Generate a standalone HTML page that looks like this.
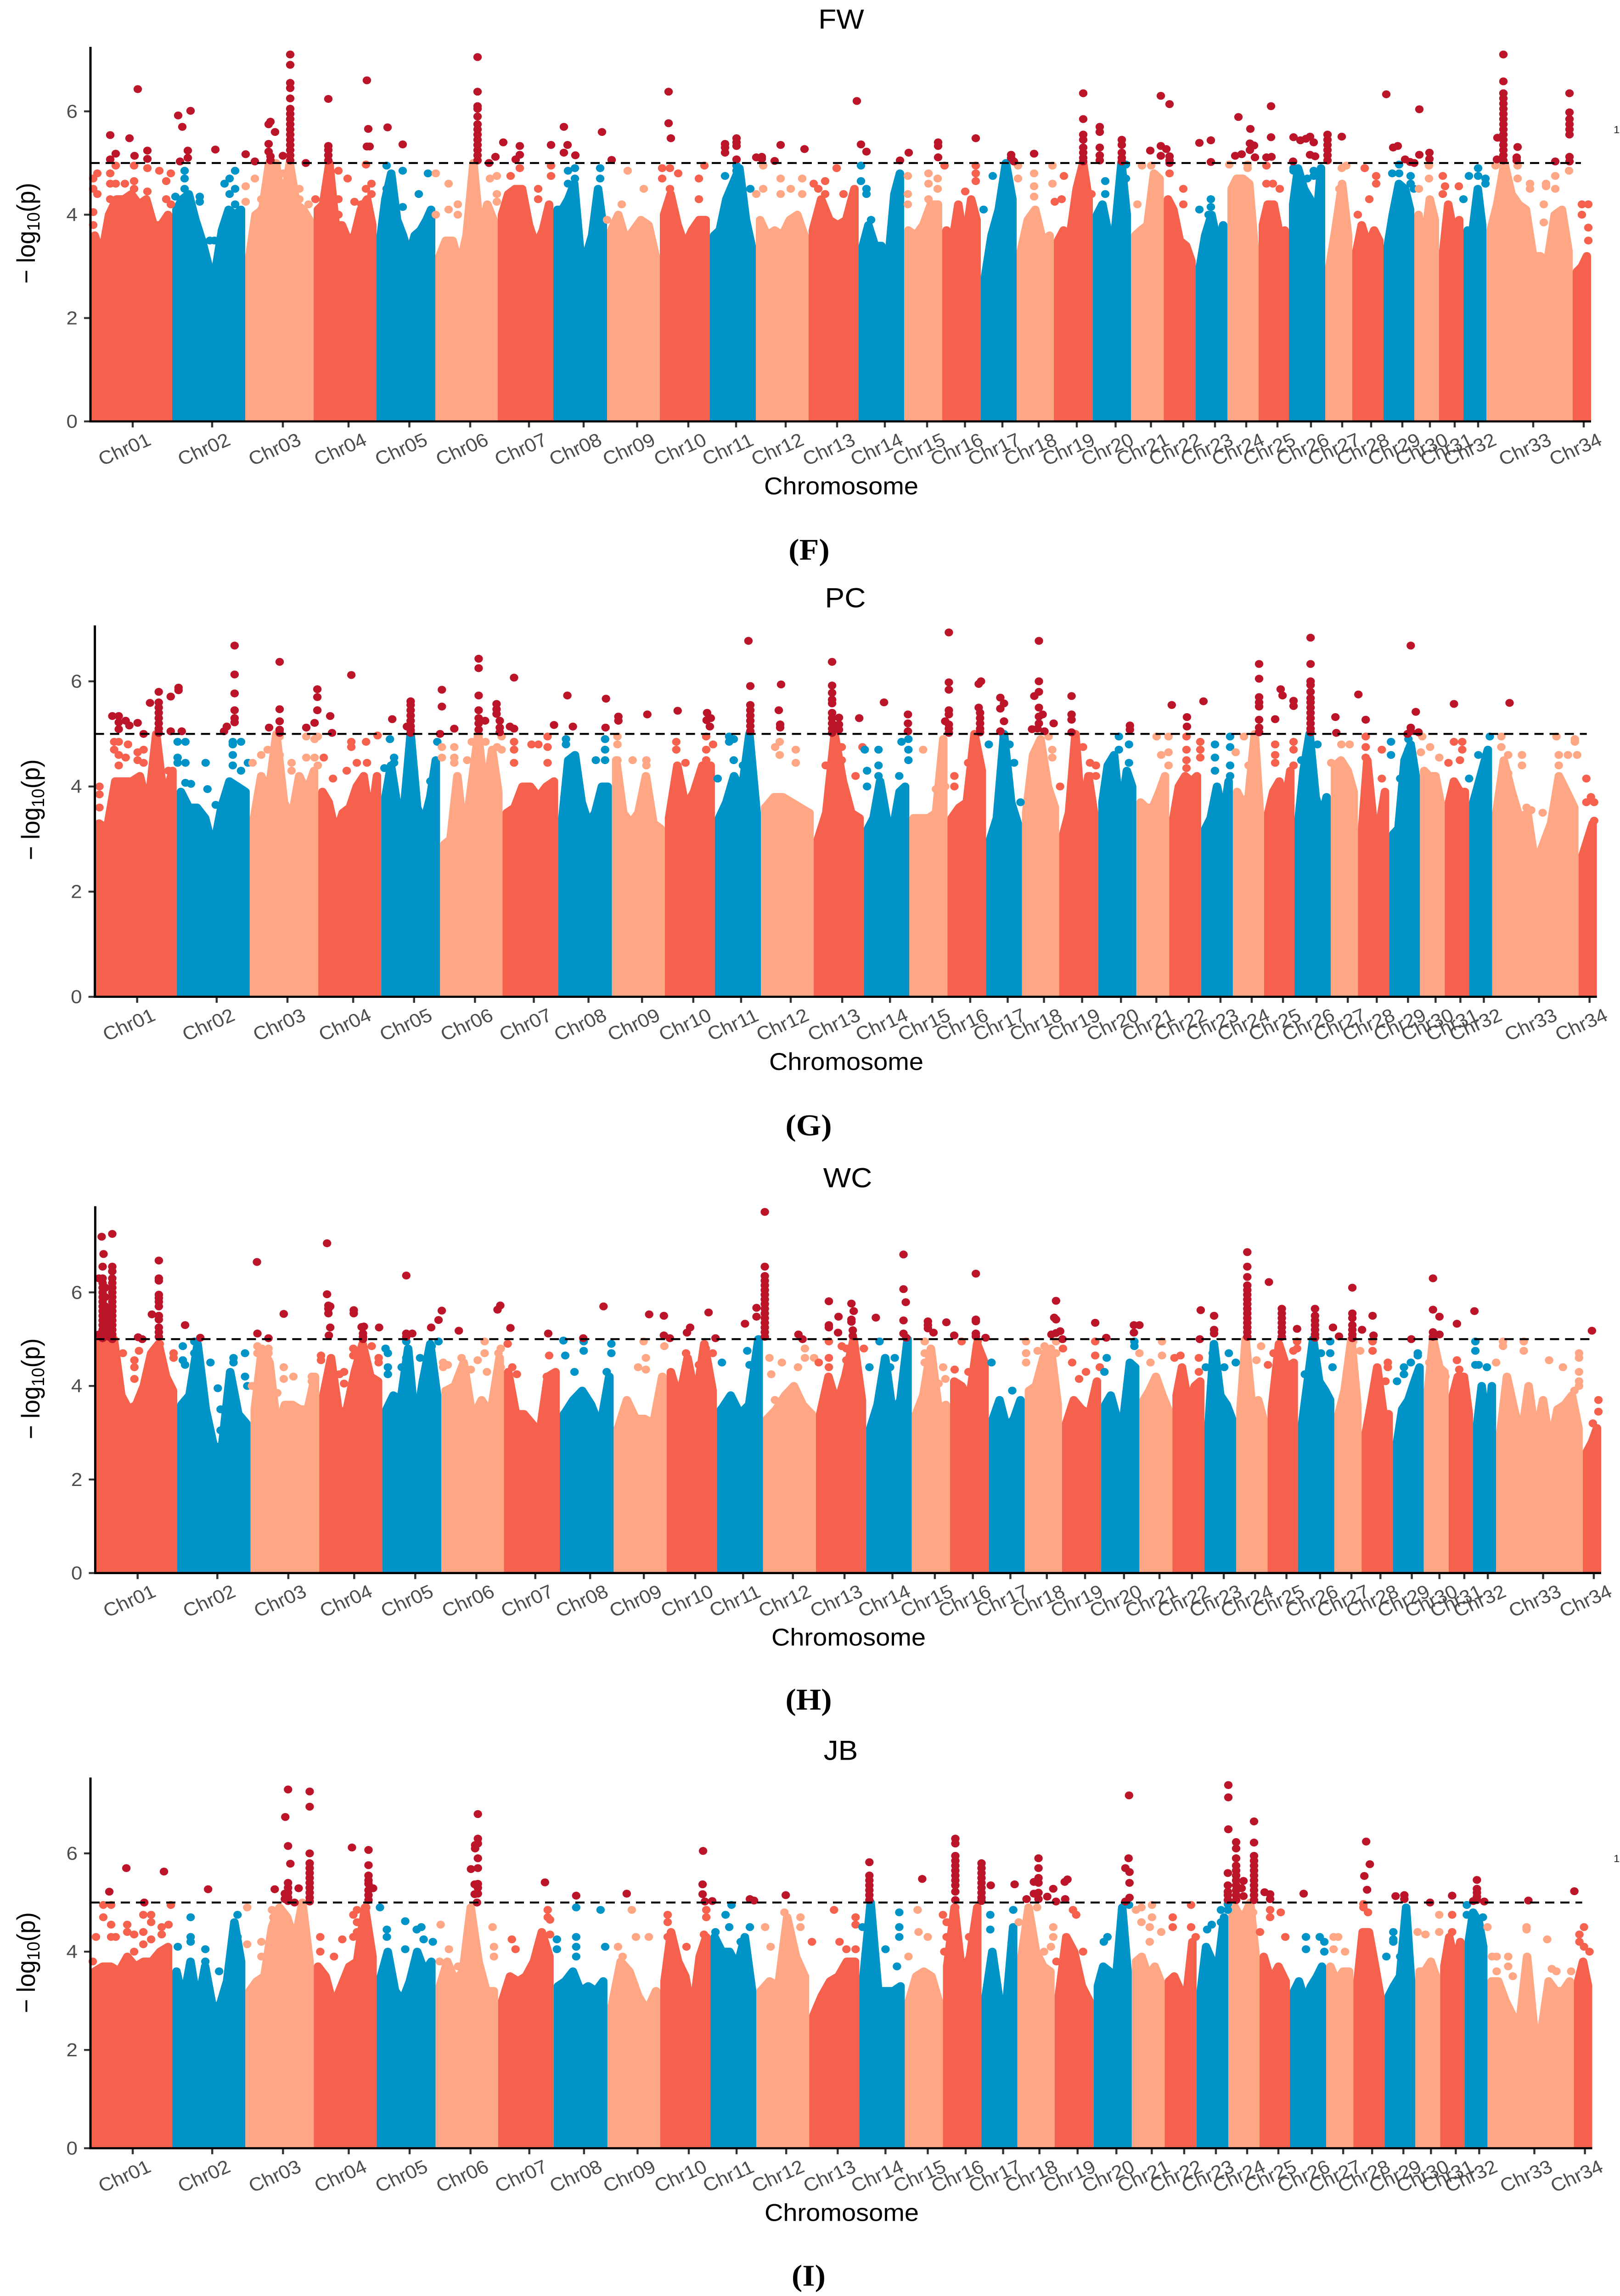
<!DOCTYPE html>
<html lang="en">
<head>
<meta charset="utf-8">
<title>Manhattan plots FW PC WC JB</title>
<style>
html,body{margin:0;padding:0;background:#fff;width:100vw;height:100vh;overflow:hidden;}
svg{display:block;position:fixed;left:0;top:0;width:100vw;height:100vh;overflow:hidden;}
text{font-family:"Liberation Sans",sans-serif;}
.title{font-size:64px;fill:#000;text-anchor:middle;}
.xtitle{font-size:56px;fill:#000;text-anchor:middle;}
.ytitle{font-size:56px;fill:#000;text-anchor:middle;}
.letter{font-family:"Liberation Serif",serif;font-weight:bold;font-size:70px;fill:#000;text-anchor:middle;}
.ticklabel{font-size:44px;fill:#4d4d4d;}
</style>
</head>
<body>
<svg id="figure" xmlns="http://www.w3.org/2000/svg" viewBox="0 0 3528 5345" preserveAspectRatio="none">
<rect width="3528" height="5345" fill="#fff"/>
<g id="panel-fw"></g>
<g id="panel-pc"></g>
<g id="panel-wc"></g>
<g id="panel-jb"></g>

<text class="title" x="1832" y="67">FW</text>
<text class="xtitle" x="1832" y="1151">Chromosome</text>
<text class="ytitle" transform="translate(76,543) rotate(-90)">− log<tspan dy="10" font-size="39">10</tspan><tspan dy="-10">(p)</tspan></text>
<text class="letter" x="1762" y="1303">(F)</text>

<text class="title" x="1841" y="1414">PC</text>
<text class="xtitle" x="1843" y="2491">Chromosome</text>
<text class="ytitle" transform="translate(86,1885) rotate(-90)">− log<tspan dy="10" font-size="39">10</tspan><tspan dy="-10">(p)</tspan></text>
<text class="letter" x="1761" y="2643">(G)</text>

<text class="title" x="1846" y="2764">WC</text>
<text class="xtitle" x="1848" y="3831">Chromosome</text>
<text class="ytitle" transform="translate(86,3233) rotate(-90)">− log<tspan dy="10" font-size="39">10</tspan><tspan dy="-10">(p)</tspan></text>
<text class="letter" x="1761" y="3980">(H)</text>

<text class="title" x="1831" y="4097">JB</text>
<text class="xtitle" x="1833" y="5170">Chromosome</text>
<text class="ytitle" transform="translate(76,4569) rotate(-90)">− log<tspan dy="10" font-size="39">10</tspan><tspan dy="-10">(p)</tspan></text>
<text class="letter" x="1761" y="5321">(I)</text>

<text x="3514" y="310" font-size="24" fill="#222">1</text>
<text x="3514" y="4335" font-size="24" fill="#222">1</text>
</svg>

<script>
const chrNames = ["Chr01","Chr02","Chr03","Chr04","Chr05","Chr06","Chr07","Chr08","Chr09","Chr10","Chr11","Chr12","Chr13","Chr14","Chr15","Chr16","Chr17","Chr18","Chr19","Chr20","Chr21","Chr22","Chr23","Chr24","Chr25","Chr26","Chr27","Chr28","Chr29","Chr30","Chr31","Chr32","Chr33","Chr34"];
const chrEdges = [0,178,337,486,623,751,887,1008,1125,1240,1349,1449,1564,1673,1772,1855,1939,2017,2098,2183,2266,2337.5,2407,2476,2544,2610,2689,2748,2816,2883,2937,2990,3040,3228,3268];
const chrTicks = [92,265,419,562,694.5,827,955,1074,1190.5,1302,1406,1514,1626,1730,1822,1904.5,1986,2065,2148,2232.5,2309.5,2380,2449,2517,2585,2658,2726,2789,2857,2917,2971,3022,3142,3252];
const yTickValues = [0,2,4,6];
const thresholdValue = 5;

const fwProfile = [
[3.6,3.2,4.0,4.3,4.3,4.4,4.2,4.3,3.8,3.8,4.0],[4.1,4.3,4.4,3.9,3.5,3.0,2.9,3.7,4.1,4.0,4.1],[3.2,4.0,4.1,5.0,5.0,4.1,5.0,4.2,4.1,3.9],[4.1,4.2,5.0,3.8,3.8,3.5,3.6,4.1,4.3,3.8],[3.6,4.3,4.8,3.9,3.6,3.2,3.6,3.7,3.9,4.1],[3.2,3.5,3.5,3.0,3.6,5.0,3.6,4.2,3.9],[4.0,4.4,4.5,4.5,3.8,3.4,3.7,4.2],
[4.1,4.1,4.3,4.6,3.3,3.2,3.6,4.5,3.8],[3.7,4.0,3.5,3.7,3.9,3.8,3.2],[4.0,4.4,3.8,3.4,3.7,3.9,3.9],[3.6,3.7,4.3,4.6,4.9,3.9,3.4],[3.9,3.6,3.7,3.6,3.9,4.0,3.6],[3.7,4.3,3.9,3.8,3.9,4.5],[3.4,3.8,3.4,3.4,3.0,4.4,4.8],[3.7,3.6,3.8,4.2,4.2],[3.7,3.4,4.2,3.4,4.3,3.9],[2.8,3.6,4.1,5.0,4.3],[3.3,3.9,4.1,3.5,3.6],[3.5,3.7,3.6,4.5,5.0,4.3],
[4.0,4.2,3.6,3.7,5.0,4.0],[3.6,3.7,3.8,4.8,4.7],[4.3,4.1,3.5,3.4,3.1],[3.0,3.6,4.0,3.4,3.8],[4.5,4.7,4.7,4.6,3.4],[3.8,4.2,4.2,3.6,3.7],[4.2,4.9,4.5,4.3,3.8,4.9],[3.0,3.7,4.6,3.6],[3.3,3.8,3.4,3.7,3.5],[3.4,4.0,4.6,4.5,4.1],[4.0,3.3,4.3,3.9],[3.3,4.2,3.6,3.9],[3.7,3.6,4.5,3.8],[3.7,4.2,5.0,4.4,4.2,4.1,3.2,3.2,3.1,4.0,4.1,3.3],[2.9,3.0,3.2]];

const pcProfile = [
[3.3,3.2,4.1,4.1,4.1,4.2,3.6,5.0,3.7,4.3],[3.9,3.6,3.6,3.4,2.8,3.6,4.1,4.0,3.9],[3.4,4.2,3.9,5.0,3.7,3.4,4.2,3.9,4.3],[3.9,3.7,3.1,3.5,3.6,4.0,4.2,3.3,4.2],[3.8,4.4,3.6,3.6,5.0,3.6,3.3,3.8,4.5],[2.9,3.0,4.2,3.0,4.0,5.0,3.8,4.7,3.9],[3.5,3.6,4.0,4.0,3.8,4.0,4.1],
[3.4,4.5,4.6,3.7,3.3,3.5,4.0,4.0],[4.5,3.5,3.3,3.5,4.2,3.3,3.2],[3.4,4.4,3.6,3.9,4.4,4.4],[3.4,3.7,4.2,3.9,5.0,3.5],[3.6,3.8,3.8,3.7,3.6,3.5],[3.0,3.5,5.0,4.1,3.5,3.4],[3.2,3.4,4.1,3.4,3.2,3.9,4.0],[3.4,3.4,3.4,3.5,4.9],[3.4,3.6,3.7,5.0,4.3],[3.0,3.4,5.0,3.7,3.3],[3.5,4.6,4.9,4.0,3.6],[3.1,3.5,5.0,3.4,4.2,3.5],
[3.7,4.4,4.6,3.4,4.3,4.0],[3.7,3.6,3.6,3.9,4.2],[3.4,4.0,4.2,4.1,4.2],[3.2,3.4,4.0,3.4,4.1],[3.9,3.7,3.8,5.0,3.5],[3.5,3.9,4.1,3.7,4.3],[3.4,4.3,5.0,3.8,3.4,3.8],[4.4,4.5,4.3,3.9],[3.2,4.5,3.3,3.3,3.9],[3.1,3.2,4.5,4.8,4.2],[4.3,4.2,4.2,3.7],[3.7,4.1,3.9,3.9],[3.7,4.0,4.4,4.7],[3.5,4.5,3.9,3.4,3.5,2.5,2.9,3.3,4.2,3.9,3.6],[2.7,3.0,3.3]];

const wcProfile = [
[5.0,5.0,5.0,3.8,3.5,3.6,4.0,4.7,4.9,4.2,3.9],[3.6,3.8,4.9,3.5,2.7,2.7,4.3,3.4,3.2],[3.5,4.8,4.5,3.1,3.6,3.6,3.5,3.5,4.2],[3.8,4.6,3.4,3.5,4.3,4.9,4.2,4.1],[3.5,3.8,3.7,4.8,3.1,4.1,4.9,3.8],[3.9,4.0,4.5,3.3,3.7,3.4,4.6],[4.3,3.4,3.4,3.2,3.0,4.2,4.3],
[3.4,3.7,3.9,3.6,3.1,4.2],[3.1,3.7,3.3,3.3,3.2,4.2],[4.3,3.7,4.6,3.7,4.9,3.9],[3.5,3.8,3.4,3.6,5.0],[3.3,3.5,3.8,4.0,3.6,3.4],[3.4,4.2,3.6,4.2,5.0,3.7],[3.1,3.6,4.6,3.4,3.7,5.0],[3.4,3.8,4.8,3.5,3.6],[4.1,4.0,3.7,4.9,4.5],[3.3,3.7,3.1,3.3,3.7],[3.9,4.0,4.6,4.8,3.6],[3.2,3.7,3.5,3.4,4.1],
[3.6,3.8,3.3,3.3,4.5,4.4],[3.7,3.9,4.2,3.8,3.5],[3.8,4.4,3.6,4.0,4.1],[3.2,4.9,3.8,3.6,3.3],[3.5,5.0,3.6,3.7,3.3],[3.5,4.9,4.4,4.5],[3.2,4.0,5.0,4.1,3.9,3.7],[3.4,3.9,5.0,3.6],[3.0,3.6,4.4,3.4,3.4],[2.8,3.5,3.7,4.1,4.4],[3.9,5.0,4.4,4.3],[3.8,4.2,4.2,3.4],[3.2,4.0,3.0,4.0],[3.0,4.2,3.5,2.9,4.0,2.9,3.7,2.7,3.5,3.6,3.8,3.1],[2.6,2.8,3.1]];

const jbProfile = [
[3.6,3.7,3.7,3.6,3.9,3.7,3.8,3.8,4.0,4.1],[3.6,3.0,3.8,2.9,3.7,2.9,2.9,3.4,4.6,3.8],[3.2,3.4,3.5,4.5,4.9,4.7,4.2,5.0,3.8],[3.7,3.5,2.9,3.3,3.7,3.8,4.9,3.9],[3.5,4.0,3.2,3.0,3.4,4.0,3.6,3.8],[3.3,3.8,3.4,3.6,4.9,3.8,3.2,3.2],[3.0,3.5,3.4,3.5,3.8,4.4,3.9],
[3.3,3.4,3.6,3.2,3.3,3.2,3.4],[2.9,3.8,3.6,3.1,2.8,3.2],[3.4,4.4,3.8,3.5,2.7,3.9,4.3],[4.3,4.0,4.0,3.7,4.3,3.2],[3.2,3.4,3.3,4.7,3.9,3.5],[2.7,3.1,3.4,3.5,3.8,3.8],[3.5,5.0,3.2,3.2,3.2,3.3],[3.0,3.5,3.6,3.5,3.0],[3.7,4.9,3.5,3.9,4.9],[3.1,4.0,3.0,3.0,4.5],[3.9,4.9,4.0,3.7,3.6],[3.1,4.3,4.0,3.3,3.0],
[3.3,3.7,3.6,3.4,4.9,3.6],[3.8,3.9,3.5,3.7,3.4],[3.4,3.5,3.2,3.2,4.2],[3.2,4.1,3.8,3.8,4.7],[5.0,4.8,4.7,5.0,4.0],[3.9,3.4,3.7,3.4],[3.2,3.4,3.0,3.3,3.5,3.7],[3.7,3.4,3.6,3.6],[3.4,4.4,4.4,3.7,3.1],[3.1,3.3,3.5,4.9,3.4],[3.6,3.6,3.8,3.5],[3.7,4.3,3.7,4.2],[4.2,4.8,4.6,4.1],[3.4,3.4,3.0,2.7,2.6,3.9,2.4,2.4,3.4,3.2,3.2,3.4],[3.4,3.8,3.3]];

const fwSnps = [
[43,5.54,5.07],[55,5.18],[85,5.48],[96,5.14],[103,6.43],[124,5.24,5.08],[191,5.92],[200,5.7],[218,6.01],[212,5.24,5.1],[195,5.03],[272,5.26],[338,5.17],[358,5.03],[388,5.75,5.37,5.22],[392,5.8,5.13,5.05],[402,5.6],[419,5.14],
[435,7.1,6.9,6.55,6.45,6.25,6.05,5.95,5.85,5.75,5.65,5.55,5.45,5.35,5.25,5.15,5.05],[469,5.0],[518,6.24,5.33,5.25,5.15,5.05],[602,6.6,5.32],[605,5.66],[608,5.32],[647,5.69],[680,5.36],
[843,7.05,6.38,6.1,6.05,5.9,5.75,5.65,5.55,5.45,5.35,5.25,5.15,5.05],[868,5.0],[882,5.12],[899,5.4],[935,5.33,5.16],[926,5.07],[1003,5.35],[1031,5.7,5.2],[1039,5.35],[1056,5.15],[1114,5.6],[1135,5.06],[1259,6.38,5.77],[1264,5.48],[1382,5.37,5.3,5.2],[1407,5.48,5.4,5.33,5.07],[1450,5.11],[1462,5.12,5.08],[1490,5.04],[1503,5.35],[1555,5.27],[1669,6.2],[1678,5.36],[1690,5.22],[1763,5.05],[1782,5.2],[1846,5.4,5.33,5.11],[1928,5.48],[2005,5.16,5.1],[2011,5.03],[2055,5.18],[2162,6.35,5.85,5.55,5.45,5.3,5.2,5.1,5.03],[2198,5.7,5.6,5.3,5.15,5.05],
[2246,5.45,5.35,5.2,5.1,5.03],[2308,5.24],[2331,6.3,5.33,5.14],[2350,6.14,5.13,5.05,5.0],[2343,5.27],[2415,5.39],[2440,5.44,5.02],[2493,5.14],[2507,5.17],[2500,5.89],[2526,5.66],[2525,5.38,5.25],[2534,5.34],[2536,5.11],[2561,5.11],[2572,5.12],[2571,6.1,5.5],[2619,5.03],[2620,5.5],[2635,5.44],[2647,5.47],[2656,5.51,5.16],[2664,5.4],[2667,5.13],[2694,5.55,5.45,5.35,5.25,5.15,5.05],[2725,5.51],[2822,6.33],[2837,5.3],[2847,5.33],[2863,5.07],[2874,5.02],[2883,5.0],[2894,6.04,5.16],[2916,5.2,5.08],
[3077,7.1,6.58,6.35,6.25,6.15,6.05,5.95,5.85,5.75,5.65,5.55,5.45,5.35,5.25,5.15,5.05],[3064,5.49],[3063,5.07],[3108,5.31],[3106,5.11,5.05],[3190,5.03],[3221,6.35,5.98,5.85,5.75,5.65,5.55,5.12,5.03],
[6,4.7,4.5,4.05,3.8],[15,4.8,4.4],[43,4.8,4.6,4.3],[55,4.95,4.6],[75,4.6,4.3],[95,4.95,4.65,4.5],[124,4.9,4.45],[150,4.85],[165,4.3,4.65],[175,4.8,4.2],[205,4.85,4.7,4.5],[185,4.35],[238,4.35,4.25],[292,4.6],[303,4.7,4.4],[315,4.85,4.5,4.2],[338,4.55,4.25],[260,3.5],[270,3.5],[358,4.7],[372,4.3,4.1],[420,4.8,4.5,4.3],[455,4.5,4.3],[475,4.2],[490,4.3],[520,4.6,4.45],[540,4.85,4.3,4.0],[560,4.7],[575,4.25],[590,4.2],[600,4.97,4.5],[612,4.6,4.4],[645,4.95,4.5],[680,4.85,4.15],[715,4.4],[735,4.8],[752,4.8,4.0],[780,4.6,4.1],[800,4.2,4.0],[870,4.7],[885,4.75,4.4,4.25],[915,4.75],[935,4.9],[975,4.5,4.3],[1003,4.95,4.75],[1040,4.85,4.6],[1055,4.9,4.7],[1110,4.9,4.7],[1125,3.9],[1170,4.85],[1205,4.5],[1157,4.2],[1245,4.9,4.7],[1262,4.9,4.5],[1280,4.8],[1325,4.7,4.3],[1337,4.95],[1382,4.75],[1407,4.95,4.85,4.65],[1437,4.5],[1450,4.4],[1465,4.95,4.5],[1503,4.7,4.4],[1525,4.5],[1550,4.7,4.4],[1575,4.6],[1585,4.5],[1600,4.65,4.4],[1625,4.9],[1640,4.4],[1678,4.95,4.65],[1690,4.5,4.4],[1700,3.9],[1780,4.75,4.4,4.2],[1825,4.8,4.6,4.3],[1845,4.7,4.5],[1860,4.95],[1928,4.95,4.8,4.65],[1905,4.45],[1945,4.1],[1965,4.75],[2020,4.95,4.7],[2055,4.8,4.55,4.35],[2095,4.95,4.6],[2100,4.25],[2120,4.75],[2115,4.3],[2160,4.8,4.4],[2180,4.4],[2210,4.65,4.4],[2255,4.97,4.7],[2290,4.95],[2310,4.95],[2280,4.2],[2350,4.8],[2380,4.5,4.2],[2440,4.3,4.15],[2415,4.1],[2435,4.0],[2480,4.97],[2520,4.97,4.9],[2561,4.95,4.6],[2575,4.6],[2590,4.5],[2620,4.85,4.9],[2664,4.85,4.75],[2650,4.7],[2725,4.9],[2735,4.95],[2720,4.5],[2775,4.9],[2800,4.75,4.6],[2785,4.3],[2760,4.0],[2850,4.97,4.8],[2875,4.75,4.6],[2882,4.5],[2835,4.8],[2893,4.5],[2915,4.95,4.7],[2945,4.75,4.4],[2950,4.55],[2980,4.55],[2990,4.3],[3002,4.75],[3022,4.9,4.75],[3038,4.7,4.6],[3060,4.95],[3108,4.95,4.7],[3135,4.6,4.5],[3170,4.6,4.55],[3165,4.2,3.85],[3190,4.75,4.5],[3220,4.85],[3248,4.2,4.0],[3262,3.75,3.5,4.2]];

const pcSnps = [
[38,5.34],[52,5.34,5.22,5.09],[67,5.25],[75,5.16],[93,5.21],[106,5.0],[120,5.59],[139,5.8,5.6,5.5,5.4,5.3,5.2,5.1,5.02],[165,5.71,5.05],[182,5.88,5.83],[189,5.05],[281,5.05],[287,5.14],[304,6.68,6.13,5.77,5.45,5.3,5.22],[379,5.12],[402,6.37,5.47,5.24,5.08,5.02],[460,5.12],[478,5.21],[484,5.85,5.7,5.45],[512,5.34],[516,5.02],[558,6.12],[647,5.28],[687,5.62,5.55,5.45,5.35,5.25,5.15,5.07,5.02],[679,5.14],[755,5.84,5.52],[751,5.0],[782,5.1],[835,6.43,6.25,5.73,5.45,5.3,5.2,5.08],[849,5.25],[874,5.57,5.47,5.38],[881,5.25,5.12,5.03],[903,5.14],[912,6.07,5.1],
[999,5.17],[1028,5.73],[1040,5.14],[1112,5.67],[1111,5.12],[1139,5.33,5.25],[1202,5.37],[1268,5.44],[1332,5.4],[1331,5.26],[1340,5.3],[1338,5.14],[1422,6.77],[1426,5.91,5.55,5.45,5.35,5.25,5.15,5.05],[1488,5.45],[1491,5.18,5.12],[1493,5.94],[1604,6.37,5.92,5.78,5.65,5.58,5.4,5.3,5.2,5.1,5.02],[1619,5.31,5.18,5.08],[1663,5.3],[1717,5.6],[1769,5.37,5.2,5.05],[1858,6.93,5.98,5.84,5.45,5.37,5.18,5.1,5.02],[1850,5.24],[1928,6.0],[1923,5.95,5.5],[1926,5.4,5.3,5.2,5.1,5.03],[1970,5.69,5.48,5.05],[1978,5.58,5.24],[2054,6.77,6.0,5.8,5.5,5.33,5.2],[2044,5.72],[2062,5.37],[2039,5.09],[2051,5.1],[2066,5.05],[2086,5.2],[2125,5.72,5.37,5.27,5.03],
[2252,5.16,5.08],[2343,5.55],[2376,5.32,5.14],[2412,5.62],[2533,6.33,6.05,5.7,5.6,5.52,5.27,5.12,5.03],[2568,5.28],[2580,5.85],[2584,5.73],[2608,5.63,5.53],[2645,6.83,6.33,6.0,5.93,5.8,5.68,5.6,5.5,5.4,5.3,5.2,5.1,5.03],[2699,5.32],[2701,5.02],[2749,5.75],[2765,5.27],[2863,6.68,5.12,5.05],[2874,5.42],[2856,5.0],[2880,5.03],[2957,5.57],[3078,5.59],
[10,4.0,3.85,3.6],[42,4.85,4.7],[52,4.85,4.6,4.4],[67,4.55],[72,4.8],[93,4.65,4.5],[106,4.7,4.45],[120,3.9],[160,4.3],[180,4.85,4.55,4.45],[197,4.85,4.45,4.07],[209,4.05],[241,4.45],[245,3.95],[263,3.65],[300,4.85,4.8,4.6,4.4],[318,4.85,4.3],[333,4.45],[343,4.45],[362,4.6],[376,4.7],[402,4.95,4.6],[428,4.45,4.3],[460,4.95,4.55],[478,4.9,4.55],[485,4.95,4.4],[498,4.55],[518,4.15],[558,4.85,4.75],[570,4.45],[548,4.3],[590,4.85],[592,4.45],[615,4.97],[630,4.35],[642,4.9],[651,4.55,4.45],[730,4.1],[745,4.85],[755,4.75,4.55],[782,4.75,4.55,4.45],[810,4.5],[820,4.85],[850,4.85],[875,4.75],[885,4.95,4.7],[912,4.85,4.7,4.45],[950,4.8],[965,4.8],[985,4.95,4.75,4.45],[1025,4.9,4.8],[1110,4.9,4.7,4.5],[1090,4.5],[1137,4.95,4.8,4.5],[1170,4.5],[1200,4.4,4.5],[1265,4.85,4.7],[1285,4.45],[1330,4.95,4.7,4.5],[1345,4.8],[1380,4.95,4.85],[1390,4.9,4.5],[1410,4.4],[1355,4.15],[1490,4.85,4.6],[1525,4.7,4.45],[1480,4.75],[1590,4.4],[1625,4.75,4.5],[1670,4.75],[1675,4.7],[1655,4.2],[1680,4.0,4.3],[1705,4.7,4.4,4.2],[1770,4.9,4.7,4.5],[1755,4.85],[1750,4.2],[1802,4.7],[1830,3.95],[1850,4.0],[1870,4.2,4.0],[1915,4.7,4.4],[1900,4.45],[1945,4.8],[1977,4.97],[1990,4.8],[2000,4.45],[2014,3.7],[2083,4.7,4.55],[2075,4.95],[2100,4.0],[2150,4.75],[2165,4.45,4.2],[2178,4.4,4.2],[2228,4.95,4.7],[2250,4.8,4.45],[2215,4.55],[2310,4.95],[2320,4.6],[2336,4.95,4.65,4.4],[2375,4.95,4.7,4.5,4.35],[2405,4.85,4.7,4.55],[2437,4.8,4.55,4.3],[2470,4.95,4.75,4.4,4.2],[2482,4.65],[2500,4.95],[2510,4.4],[2568,4.8,4.6,4.45],[2608,4.85,4.7,4.4],[2625,4.5],[2660,4.8],[2690,4.45],[2712,4.8],[2730,4.8],[2765,4.95,4.75,4.55],[2800,4.7,4.15],[2820,4.85,4.6],[2840,4.15],[2858,4.9,4.7],[2888,4.95],[2885,4.65],[2905,4.75],[2925,4.55],[2945,4.45],[2957,4.85],[2975,4.85,4.7],[2970,4.5],[2990,4.15],[3010,4.6],[3035,4.95],[3060,4.95,4.75],[3075,4.6,4.25],[3105,4.6,4.4],[3115,3.6],[3125,3.55],[3150,3.5],[3180,4.95],[3185,4.6,4.4],[3220,4.9,4.85],[3225,4.6],[3205,4.6],[3245,4.15,3.7],[3255,3.8],[3262,3.7,3.35]];

const wcSnps = [
[14,7.19],[18,6.82],[16,6.55,6.3,6.2,6.1,6.0,5.9,5.8,5.7,5.6,5.5,5.4,5.3,5.2,5.1,5.02],[8,6.3,5.1],[37,7.25,6.55,6.45,6.3,6.2,6.1,6.0,5.9,5.8,5.7,5.6,5.5,5.4,5.3,5.2,5.1,5.0],[22,6.1,5.9,5.7,5.5,5.3,5.1],[30,5.6,5.4,5.2,5.05],[93,5.04],[102,5.0],[138,6.68,6.3,6.25,5.95,5.88,5.8,5.7,5.5,5.42,5.25,5.15,5.05],[123,5.53],[195,5.3],[228,5.03],[351,6.65],[352,5.12],[376,5.02],[409,5.54],[503,7.05,5.96],[506,5.72,5.65,5.55],[510,5.7,5.25],[507,5.08],[561,5.62,5.55],[578,5.26],[583,5.27],[581,5.12,5.05,5.0],[616,5.25],[675,6.36,5.12,5.05],[688,5.12],[729,5.25],[745,5.41],[752,5.61],[789,5.18],[873,5.63],[879,5.72],[901,5.24],[983,5.12],
[1103,5.7],[1059,5.02],[1202,5.53],[1234,5.5,5.08],[1247,5.02],[1284,5.14],[1291,5.25],[1331,5.57],[1346,5.02],[1410,5.33],[1435,5.67,5.48],[1453,7.72,6.55,6.35,6.25,6.15,6.05,5.95,5.85,5.75,5.65,5.55,5.45,5.35,5.25,5.15,5.05],[1526,5.1],[1535,5.0],[1592,5.81,5.3,5.25],[1613,5.48],[1612,5.14],[1641,5.76,5.42,5.37],[1646,5.6],[1644,5.19,5.07],[1694,5.46],[1754,6.81,6.07,5.4,5.12],[1759,5.79],[1760,5.03],[1807,5.38,5.3,5.23],[1819,5.14],[1847,5.36],[1864,5.08],[1911,6.4,5.42,5.38,5.12,5.06],[1932,5.03],[2085,5.82,5.42,5.13],[2081,5.46],[2075,5.1],[2094,5.17],[2099,5.0],[2170,5.35],
[2194,5.03],[2254,5.3,5.14],[2266,5.3],[2399,5.62],[2397,5.0],[2428,5.5,5.2,5.12],[2500,6.86,6.55,6.33,6.15,6.05,5.95,5.85,5.75,5.65,5.55,5.45,5.35,5.25,5.15,5.05],[2547,6.22],[2575,5.65,5.55,5.45,5.35,5.25,5.15,5.05],[2608,5.22],[2647,5.65,5.5,5.4,5.3,5.2,5.1,5.03],[2686,5.25],[2699,5.06],[2728,6.1,5.55,5.45,5.3,5.2,5.1,5.02],[2749,5.2],[2772,5.5],[2774,5.08],[2856,5.0],[2903,6.3,5.63,5.15,5.05],[2917,5.48,5.1],[2955,5.33],[2993,5.6],[3248,5.18],
[60,4.7],[85,4.55,4.4,4.15],[95,4.75],[140,4.9],[170,4.7,4.6],[190,4.85,4.55],[195,4.45],[215,4.95,4.7],[250,4.5],[266,3.95],[272,3.5,3.05],[300,4.5,4.6],[325,4.7,4.2],[330,4.0],[340,4.0],[352,4.85,4.7],[376,4.8,4.7,4.55],[409,4.4,4.15],[430,4.2],[395,3.85],[470,4.2,4.1],[490,4.65,4.55],[530,4.25],[540,4.3,4.05],[560,4.8,4.65],[572,4.75],[600,4.85],[615,4.6,4.5],[630,4.8],[635,4.7,4.4,4.25],[665,4.4],[675,4.95,4.6],[705,4.6],[730,4.85],[745,4.95],[755,4.5,4.4],[765,4.45],[795,4.6],[815,4.35],[830,4.55],[850,4.3],[845,4.95,4.7],[875,4.7],[880,4.8,4.4],[895,4.9],[905,4.4],[915,4.25],[980,4.2],[985,4.65],[1016,4.97],[1020,4.65],[1040,4.3],[1060,4.95,4.75],[1120,4.9,4.7],[1110,4.3],[1190,4.95],[1235,4.85],[1178,4.4],[1195,4.6,4.35],[1282,4.7],[1310,4.45],[1325,4.8],[1340,4.7],[1360,4.5],[1415,4.75],[1420,4.45],[1463,4.6],[1467,4.25],[1490,4.5],[1540,4.8,4.6],[1560,4.6],[1570,4.5],[1525,4.4],[1475,3.7],[1592,4.95,4.6,4.4],[1620,4.85],[1630,4.8,4.55],[1668,4.8],[1680,4.4],[1702,4.95],[1735,4.6],[1725,4.4],[1800,4.95,4.7,4.5],[1840,4.4],[1845,4.15],[1830,4.05],[1865,4.35],[1880,4.95],[1895,4.3],[1915,4.95],[1945,4.5],[2020,4.95,4.7,4.5],[1990,3.9],[2045,4.75],[2060,4.85,4.7],[2085,4.95,4.7],[2100,4.8],[2120,4.5],[2135,4.15],[2150,4.3],[2170,4.95,4.65],[2180,4.4],[2195,4.6],[2190,4.3],[2245,4.4],[2255,4.85,4.95],[2266,4.7],[2290,4.5],[2315,4.95,4.65],[2342,4.6],[2355,4.65],[2395,4.6,4.3],[2410,4.4],[2425,4.7,4.4,4.2],[2460,4.7],[2450,4.4],[2475,4.5],[2530,4.85],[2520,4.55],[2545,4.45],[2557,4.7],[2600,4.75],[2608,4.95,4.8],[2660,4.7],[2685,4.4],[2680,4.95,4.7],[2625,4.25],[2630,3.7],[2745,4.75],[2730,4.95],[2772,4.95,4.75],[2805,4.5,4.4],[2800,4.1],[2825,4.1],[2840,4.4,4.25],[2870,4.7,4.65],[2895,4.5],[2855,4.5],[2915,4.5],[2930,4.2],[2955,4.55],[2960,4.35],[2995,4.95,4.75,4.45],[3002,4.45],[3020,4.4],[3040,4.5],[3055,4.95,4.85],[3100,4.95,4.75],[3155,4.55],[3185,4.4],[3220,4.7,4.6,4.3,4.1,4.0],[3210,3.9],[3250,3.2],[3262,3.7,3.45]];

const jbSnps = [
[41,5.22],[78,5.7],[117,5.0],[160,5.63],[256,5.27],[401,5.27],[424,6.74],[430,7.3,6.15,5.4,5.3,5.2,5.1,5.03],[435,5.79],[423,5.18,5.07],[444,5.0],[453,5.29],[477,7.26,6.95,6.0,5.8,5.7,5.6,5.5,5.4,5.3,5.2,5.1,5.02],[569,6.12],[605,6.07,5.76,5.55,5.45,5.38,5.25,5.15,5.05],[615,5.29],[843,6.8,6.3,6.2,5.9,5.7,5.38,5.3,5.18],[837,6.17,6.1],[828,5.68],[836,5.37,5.17],[841,5.0],[989,5.41],
[1057,5.14],[1167,5.18],[1333,6.05],[1332,5.37,5.17],[1337,5.02],[1353,5.03],[1435,5.07],[1444,5.04],[1513,5.15],[1695,5.82,5.55,5.45,5.35,5.25,5.15,5.05],[1810,5.48],[1882,6.3,6.2,5.95,5.85,5.75,5.65,5.55,5.45,5.35,5.22,5.05],[1939,5.8,5.7,5.6,5.5,5.4,5.3,5.2,5.1,5.03],[1959,5.35],[2011,5.37],[2037,5.07],[2063,5.9,5.7,5.5,5.4,5.2,5.07],[2053,5.42,5.18],[2095,5.28],[2082,5.12],[2101,5.02],[2126,5.47],[2120,5.42],[2121,5.07],
[2260,7.18],[2259,5.9],[2252,5.7],[2261,5.62,5.4,5.1],[2252,5.02],[2476,7.39,7.14,6.49],[2475,5.6,5.35,5.22,5.15,5.05],[2493,6.23,6.1,5.9,5.75,5.65,5.55,5.45,5.35,5.25,5.15,5.05],[2509,5.44,5.13],[2505,5.29],[2532,6.65,6.22,5.95,5.85,5.75,5.65,5.55,5.45,5.35,5.25,5.15,5.05],[2555,5.21],[2567,5.17,5.07],[2640,5.18],[2776,6.24],[2784,5.78],[2772,5.54],[2778,5.26],[2840,5.13],[2859,5.15,5.07],[2915,5.0],[2963,5.14],[3017,5.46,5.28,5.2,5.12,5.05],[3009,5.03],[3033,5.02],[3129,5.04],[3229,5.23],
[5,3.8],[12,4.3],[28,4.95,4.7],[45,4.95,4.55,4.3],[55,4.3],[80,4.55,4.4],[95,4.35,4.0],[115,4.75,4.4,4.15],[132,4.75,4.6,4.25],[155,4.5,4.35],[170,4.55],[175,4.95],[190,4.1],[218,4.7,4.3,4.2],[250,4.05,3.8],[280,3.6],[305,3.65],[320,4.75,4.3],[341,4.9,4.15],[372,4.2,3.9],[398,4.7,4.2,3.9],[395,4.85],[453,4.25],[500,4.3,4.0],[530,3.9],[548,4.25],[572,4.75,4.3],[580,4.85,4.6,4.4],[600,4.9],[630,4.9],[645,4.45,4.3],[685,4.62,4.05],[710,4.45],[720,4.5],[725,4.25],[745,4.2],[762,4.55],[760,3.8],[780,4.05],[800,3.7],[875,4.5],[878,4.1,3.9],[917,4.25],[925,4.05],[995,4.85,4.7],[1000,4.65,4.35],[1057,4.9,4.3,4.1,3.9],[1015,4.25,4.05],[1110,4.85],[1120,4.1],[1178,4.85],[1187,4.3],[1148,4.1],[1215,4.3],[1158,3.9],[1256,4.75,4.6,4.3],[1297,4.1],[1340,4.85,4.7],[1335,4.35],[1360,4.4],[1382,4.75],[1390,4.5],[1395,4.95],[1435,4.5],[1415,4.2],[1468,4.5],[1510,4.8],[1545,4.7,4.5],[1570,4.2],[1480,4.1],[1630,4.2],[1645,4.05],[1618,4.85],[1665,4.7,4.55,4.05],[1680,4.5],[1730,4.05],[1760,4.8,4.5,4.3],[1755,3.7],[1780,3.9],[1800,4.85],[1802,4.4],[1822,4.3],[1855,4.75],[1858,4.0],[1863,4.6,4.3],[1912,4.3],[1882,4.9,4.7],[1958,4.75,4.45],[2008,4.85],[2020,4.6],[2060,4.9],[2095,4.5,4.3],[2075,4.0],[2090,4.1],[2102,3.8],[2138,4.85],[2145,4.75],[2160,4.0],[2213,4.3],[2205,4.2],[2260,4.95],[2275,4.85],[2287,4.9,4.6],[2310,4.95,4.7],[2330,4.4],[2305,4.5,4.2],[2355,4.7,4.5],[2395,4.95,4.5],[2405,4.3],[2430,4.45],[2440,4.55],[2460,4.85,4.6],[2475,4.97,4.85],[2530,4.8],[2545,4.4],[2567,4.85,4.7],[2590,4.8],[2600,4.3],[2645,4.3,4.05],[2675,4.3],[2685,4.2,4.0],[2705,4.3,4.05],[2715,4.3],[2730,4.0],[2770,4.97,4.9],[2780,4.8],[2820,3.9],[2835,4.4,4.25,4.2],[2850,3.9],[2888,4.4],[2905,4.35],[2935,4.75,4.4],[2963,4.75,4.4],[2995,4.95,4.75],[3030,4.7],[3040,4.5],[3050,3.9],[3060,3.9,3.6],[3085,3.9,3.7],[3095,3.5],[3125,4.5,4.45],[3170,4.25],[3190,3.6],[3222,3.6],[3180,3.65],[3240,4.35,4.2],[3250,4.5,4.1],[3262,4.0]];

const SVG_NS = "http://www.w3.org/2000/svg";
const chrPalette = ["#F6614E","#0093C7","#FFA684"];
const hitColor = "#BC1428";
const chartSpan = 3268;

function node(tag, parent, attrs) {
  const el = document.createElementNS(SVG_NS, tag);
  for (const k in attrs) el.setAttribute(k, attrs[k]);
  parent.appendChild(el);
  return el;
}

function chrIndexOf(pos) {
  for (let i = 0; i < chrNames.length; i++) {
    if (pos < chrEdges[i + 1]) return i;
  }
  return chrNames.length - 1;
}

function drawPanel(id, profile, snps, frame) {
  const root = document.getElementById(id);
  const xScale = p => frame.x0 + p * (frame.x1 - frame.x0) / chartSpan;
  const yScale = v => frame.y0 - v * frame.unit;
  const radius = 9.2;

  const clip = node("clipPath", root, {id: id + "-clip"});
  node("rect", clip, {x: frame.x0, y: frame.top, width: frame.x1 - frame.x0, height: frame.y0 - frame.top});
  const envelopes = node("g", root, {"clip-path": "url(#" + id + "-clip)"});
  
  

  profile.forEach((samples, c) => {
    const start = chrEdges[c];
    const end = chrEdges[c + 1];
    const step = (end - start) / samples.length;
    const color = chrPalette[c % 3];
    const left = xScale(start) + radius;
    const right = xScale(end) - radius;
    let d = "M" + left.toFixed(1) + " " + (frame.y0 + radius);
    d += "L" + left.toFixed(1) + " " + yScale(samples[0]).toFixed(1);
    samples.forEach((v, i) => {
      const px = Math.min(right, Math.max(left, xScale(start + (i + 0.5) * step)));
      d += "L" + px.toFixed(1) + " " + yScale(v).toFixed(1);
    });
    d += "L" + right.toFixed(1) + " " + yScale(samples[samples.length - 1]).toFixed(1);
    d += "L" + right.toFixed(1) + " " + (frame.y0 + radius) + "Z";
    const area = node("path", envelopes, {d: d, fill: color, stroke: color, "stroke-width": radius * 2, "stroke-linejoin": "round"});
    
    
  });

  snps.forEach(item => {
    const pos = item[0];
    for (let k = 1; k < item.length; k++) {
      const v = item[k];
      if (v >= thresholdValue) continue;
      const dot = node("circle", root, {cx: xScale(pos).toFixed(1), cy: yScale(v).toFixed(1), r: radius, fill: chrPalette[chrIndexOf(pos) % 3]});
      
      
    }
  });
  snps.forEach(item => {
    const pos = item[0];
    for (let k = 1; k < item.length; k++) {
      const v = item[k];
      if (v < thresholdValue) continue;
      const dot = node("circle", root, {cx: xScale(pos).toFixed(1), cy: yScale(v).toFixed(1), r: radius, fill: hitColor});
      
      
    }
  });

  const line = node("line", root, {x1: xScale(0), x2: xScale(3246), y1: yScale(thresholdValue), y2: yScale(thresholdValue), stroke: "#000", "stroke-width": 4.5, "stroke-dasharray": "20 13"});
  
  

  yTickValues.forEach(v => {
    const tick = node("line", root, {x1: frame.x0 - 14, x2: frame.x0, y1: yScale(v), y2: yScale(v), stroke: "#333", "stroke-width": 4.5});
    
    
    const label = node("text", root, {x: frame.x0 - 28, y: yScale(v) + 15, "text-anchor": "end", class: "ticklabel"});
    
    
    label.textContent = v;
  });

  chrTicks.forEach((t, i) => {
    const px = xScale(t);
    const tick = node("line", root, {x1: px, x2: px, y1: frame.y0, y2: frame.y0 + 14, stroke: "#333", "stroke-width": 4.5});
    
    
    const cx = px - 18, cy = frame.y0 + 65;
    const label = node("text", root, {x: cx, y: cy + 15, "text-anchor": "middle", class: "ticklabel", transform: "rotate(-25 " + cx + " " + cy + ")"});
    
    
    label.textContent = chrNames[i];
  });

  const yAxis = node("line", root, {x1: frame.x0, x2: frame.x0, y1: frame.top, y2: frame.y0 + 2.5, stroke: "#000", "stroke-width": 5});
  
  
  const xAxis = node("line", root, {x1: frame.x0, x2: frame.x1, y1: frame.y0, y2: frame.y0, stroke: "#000", "stroke-width": 5});
  
  
}

drawPanel("panel-fw", fwProfile, fwSnps, {x0: 197, x1: 3465, y0: 981, unit: 120.3, top: 109});
drawPanel("panel-pc", pcProfile, pcSnps, {x0: 206.6, x1: 3477.7, y0: 2320.5, unit: 122.4, top: 1456});
drawPanel("panel-wc", wcProfile, wcSnps, {x0: 207.4, x1: 3487, y0: 3662, unit: 108.9, top: 2808});
drawPanel("panel-jb", jbProfile, jbSnps, {x0: 197, x1: 3467.6, y0: 5001, unit: 114.4, top: 4138});
</script>
</body>
</html>
